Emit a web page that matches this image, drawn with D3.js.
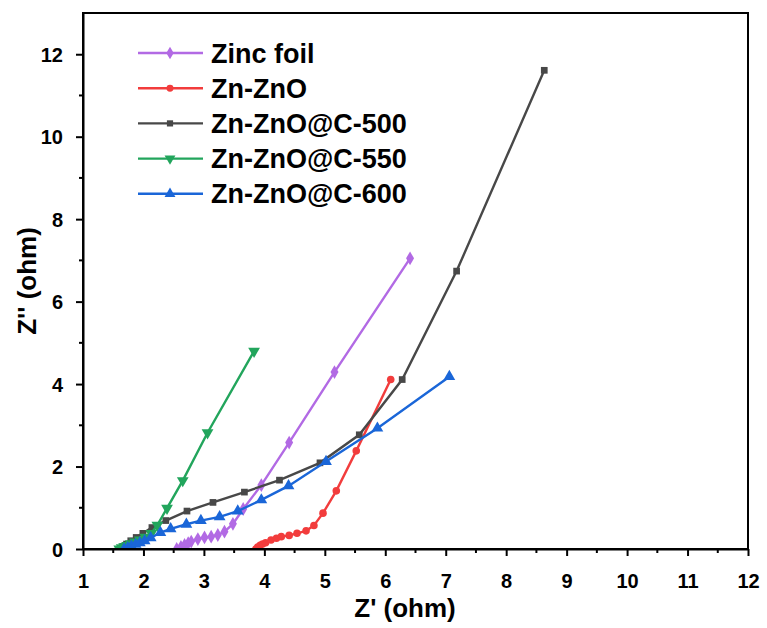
<!DOCTYPE html>
<html><head><meta charset="utf-8">
<script src="https://cdn.jsdelivr.net/npm/d3@7"></script>
<style>body{margin:0;background:#fff}svg{display:block}text{font-family:"Liberation Sans",Arial,sans-serif;font-weight:bold}</style>
</head><body><svg id="c" width="767" height="628"></svg>
<script>
const seriesNames = ["Zinc foil","Zn-ZnO","Zn-ZnO@C-500","Zn-ZnO@C-550","Zn-ZnO@C-600"];
const zincFoilX = [2.55,2.62,2.68,2.74,2.79,2.90,3.01,3.12,3.23,3.34,3.48,3.65,3.95,4.41,5.16,6.41];
const zincFoilY = [0.00,0.05,0.10,0.14,0.18,0.24,0.28,0.30,0.34,0.42,0.61,0.97,1.55,2.58,4.29,7.05];
const znZnOX = [3.86,3.89,3.93,3.97,4.02,4.11,4.20,4.28,4.41,4.54,4.69,4.82,4.97,5.19,5.52,6.09];
const znZnOY = [0.00,0.05,0.09,0.12,0.15,0.22,0.26,0.30,0.33,0.38,0.44,0.57,0.87,1.41,2.38,4.11];
const c500X = [1.62,1.66,1.72,1.79,1.88,1.99,2.14,2.37,2.72,3.15,3.67,4.25,4.92,5.57,6.28,7.18,8.63];
const c500Y = [0.00,0.06,0.12,0.20,0.28,0.38,0.52,0.69,0.92,1.13,1.38,1.67,2.09,2.77,4.11,6.74,11.61];
const c550X = [1.60,1.64,1.68,1.73,1.79,1.86,1.94,2.03,2.13,2.23,2.39,2.65,3.06,3.83];
const c550Y = [0.00,0.03,0.06,0.09,0.13,0.17,0.22,0.29,0.38,0.58,0.99,1.66,2.82,4.80];
const c600X = [1.68,1.74,1.80,1.87,1.94,2.02,2.12,2.28,2.45,2.71,2.95,3.26,3.56,3.95,4.40,5.02,5.87,7.06];
const c600Y = [0.00,0.03,0.07,0.11,0.15,0.20,0.27,0.40,0.49,0.60,0.69,0.78,0.92,1.19,1.53,2.12,2.93,4.18];
const xTicks = [1,2,3,4,5,6,7,8,9,10,11,12];
const yTicks = [0,2,4,6,8,10,12];
const colors = ["#b26ae4","#f23c3c","#484848","#22a55c","#1a66d8"];
const symbols = [d3.symbolDiamond, d3.symbolCircle, d3.symbolSquare, "down", d3.symbolTriangle];

const svg = d3.select("#c");
const L=83,R=748,T=13,B=549;
const x = d3.scaleLinear().domain([1,12]).range([L,R]);
const y = d3.scaleLinear().domain([0,13]).range([B,T]);

const data = [[zincFoilX,zincFoilY],[znZnOX,znZnOY],[c500X,c500Y],[c550X,c550Y],[c600X,c600Y]]
  .map(([xs,ys])=>xs.map((v,i)=>({x:v,y:ys[i]})));

function marker(g, i, cx, cy, size){
  const s = symbols[i];
  if (s==="down"){
    g.append("path").attr("d",d3.symbol(d3.symbolTriangle,size)()).attr("transform",`translate(${cx},${cy}) rotate(180)`).attr("fill",colors[i]);
  } else {
    g.append("path").attr("d",d3.symbol(s,size)()).attr("transform",`translate(${cx},${cy})`).attr("fill",colors[i]);
  }
}
const sizes=[55,45,45,60,60];

const plot = svg.append("g");
plot.append("clipPath").attr("id","clip").append("rect").attr("x",L).attr("y",T).attr("width",R-L).attr("height",B-T);
const pg = plot.append("g").attr("clip-path","url(#clip)");
data.forEach((d,i)=>{
  pg.append("path").datum(d).attr("fill","none").attr("stroke",colors[i]).attr("stroke-width",2.4)
    .attr("d",d3.line().x(p=>x(p.x)).y(p=>y(p.y)));
  d.forEach(p=>marker(pg,i,x(p.x),y(p.y),sizes[i]));
});

// frame
svg.append("rect").attr("x",L).attr("y",T).attr("width",R-L).attr("height",B-T).attr("fill","none").attr("stroke","#000").attr("stroke-width",2);

// x axis
const xa = svg.append("g").attr("transform",`translate(0,${B})`)
  .call(d3.axisBottom(x).tickValues(xTicks).tickFormat(d3.format("d")).tickSize(7).tickSizeOuter(0));
xa.select(".domain").attr("stroke-width",2);
xa.selectAll(".tick line").attr("stroke-width",2);
xa.selectAll(".tick text").attr("font-size",20).attr("fill","#000").attr("y",39).attr("dy",0);
const xMinor = d3.range(1.5,12,1);
svg.append("g").selectAll("line").data(xMinor).join("line")
  .attr("x1",d=>x(d)).attr("x2",d=>x(d)).attr("y1",B).attr("y2",B+4).attr("stroke","#000").attr("stroke-width",2);

// y axis
const ya = svg.append("g").attr("transform",`translate(${L},0)`)
  .call(d3.axisLeft(y).tickValues(yTicks).tickSize(7).tickSizeOuter(0));
ya.select(".domain").attr("stroke-width",2);
ya.selectAll(".tick line").attr("stroke-width",2);
ya.selectAll(".tick text").attr("font-size",20).attr("fill","#000").attr("x",-20).attr("dy","0.36em");
const yMinor = d3.range(1,13,2);
svg.append("g").selectAll("line").data(yMinor).join("line")
  .attr("x1",L-4).attr("x2",L).attr("y1",d=>y(d)).attr("y2",d=>y(d)).attr("stroke","#000").attr("stroke-width",2);

svg.append("text").attr("x",405).attr("y",617).attr("text-anchor","middle").attr("font-size",26).text("Z' (ohm)");
svg.append("text").attr("transform",`translate(36,${(T+B)/2}) rotate(-90)`).attr("text-anchor","middle").attr("font-size",26).text("Z'' (ohm)");

// legend
const leg = svg.append("g");
seriesNames.forEach((n,i)=>{
  const ly = 53 + i*35.2;
  leg.append("line").attr("x1",138).attr("x2",203).attr("y1",ly).attr("y2",ly).attr("stroke",colors[i]).attr("stroke-width",2.4);
  marker(leg,i,170,ly,sizes[i]*0.85);
  leg.append("text").attr("x",211).attr("y",ly+9.5).attr("font-size",27).text(n);
});
</script></body></html>
